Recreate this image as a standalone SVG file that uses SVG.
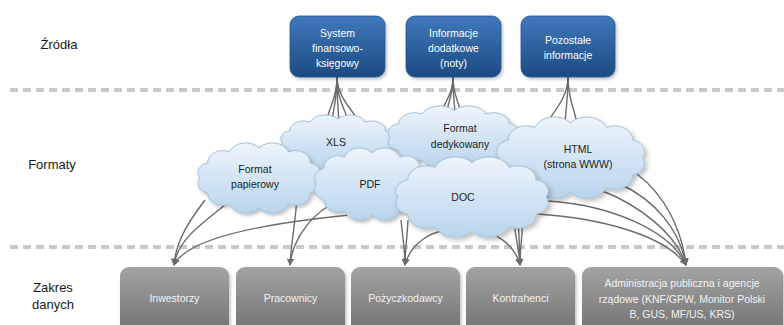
<svg xmlns="http://www.w3.org/2000/svg" xmlns:xlink="http://www.w3.org/1999/xlink" width="784" height="325" viewBox="0 0 784 325">
<style>
.lbl{font-family:"Liberation Sans","DejaVu Sans",sans-serif;font-size:13px;fill:#1a1a1a;text-anchor:middle}
.src{font-family:"Liberation Sans","DejaVu Sans",sans-serif;font-size:10.5px;fill:#ffffff;text-anchor:middle}
.cl{font-family:"Liberation Sans","DejaVu Sans",sans-serif;font-size:10.5px;fill:#222222;text-anchor:middle}
.dst{font-family:"Liberation Sans","DejaVu Sans",sans-serif;font-size:10.5px;fill:#f2f2f2;text-anchor:middle}
.dash{stroke:#c9c9c9;stroke-width:4;stroke-dasharray:8 5;fill:none}
.fan{fill:none;stroke:#6b6b6b;stroke-width:1.4}
.arr{fill:none;stroke:#6b6b6b;stroke-width:1.4;marker-end:url(#ah)}
.cloud{fill:url(#gCloud);stroke:#a5c0d8;stroke-width:1;filter:url(#sh)}
.sbox{fill:url(#gBlue);stroke:#23548e;stroke-width:0.8;filter:url(#sh)}
.dbox{fill:url(#gGray);filter:url(#sh)}
</style>
<defs>
<linearGradient id="gBlue" x1="0" y1="0" x2="0" y2="1">
<stop offset="0" stop-color="#3e78bb"/><stop offset="1" stop-color="#1d4b82"/>
</linearGradient>
<linearGradient id="gGray" x1="0" y1="0" x2="0" y2="1">
<stop offset="0" stop-color="#a3a3a3"/><stop offset="1" stop-color="#6f6f6f"/>
</linearGradient>
<linearGradient id="gCloud" x1="0" y1="0" x2="0" y2="1">
<stop offset="0" stop-color="#eef5fc"/><stop offset="1" stop-color="#b9d4ec"/>
</linearGradient>
<filter id="sh" x="-10%" y="-10%" width="125%" height="130%">
<feDropShadow dx="1.5" dy="2" stdDeviation="1.5" flood-color="#000" flood-opacity="0.25"/>
</filter>
<marker id="ah" viewBox="0 0 10 10" refX="9" refY="5" markerWidth="7" markerHeight="7" orient="auto" markerUnits="userSpaceOnUse">
<path d="M0,0 L10,5 L0,10 Z" fill="#6b6b6b"/>
</marker>
<path id="cloudShape" vector-effect="non-scaling-stroke" d="M6,32 A9,9 0 0 1 11.9,18.5 A11,11 0 0 1 28,8.6 A13,13 0 0 1 50,5 A13,13 0 0 1 72,8.6 A11,11 0 0 1 88.1,18.5 A9,9 0 0 1 94,32 A9,9 0 0 1 88.1,45.5 A11,11 0 0 1 72,55.4 A13,13 0 0 1 50,59 A13,13 0 0 1 28,55.4 A11,11 0 0 1 11.9,45.5 A9,9 0 0 1 6,32 Z"/>
</defs>

<rect x="0" y="0" width="784" height="325" fill="#ffffff"/>

<g id="rows">
<line class="dash" x1="10" y1="90" x2="784" y2="90"/>
<line class="dash" x1="10" y1="247" x2="784" y2="247"/>
<text class="lbl" x="59" y="49">Źródła</text>
<text class="lbl" x="52" y="169">Formaty</text>
<text class="lbl" x="53" y="292">Zakres</text>
<text class="lbl" x="53" y="309">danych</text>
</g>

<g id="connectors">
<path class="fan" d="M337,77 C337,100 328,108 326,124"/>
<path class="fan" d="M337,77 C337,100 333,110 332,122"/>
<path class="fan" d="M337,77 C337,100 338,110 339,122"/>
<path class="fan" d="M337,77 C337,100 345,108 348,121"/>
<path class="fan" d="M337,77 C338,100 354,110 359,123"/>
<path class="fan" d="M453,77 C453,95 444,102 441,114"/>
<path class="fan" d="M453,77 C453,95 448,102 447,112"/>
<path class="fan" d="M453,77 C453,95 454,102 455,112"/>
<path class="fan" d="M453,77 C453,95 459,102 461,114"/>
<path class="fan" d="M568,77 C568,100 550,115 543,129"/>
<path class="fan" d="M568,77 C568,100 566,110 565,122"/>
<path class="fan" d="M568,77 C568,100 575,110 577,124"/>

<path class="arr" d="M205,200 C190,220 176,240 174,265"/>
<path class="arr" d="M225,205 C200,225 178,240 174,265"/>
<path class="arr" d="M398,211 C300,218 190,232 174,265"/>
<path class="arr" d="M297,198 C295,225 291,245 290,265"/>
<path class="arr" d="M330,205 C305,220 292,245 290,265"/>
<path class="arr" d="M401,220 C403,240 405,250 405,265"/>
<path class="arr" d="M408,220 C407,240 405,250 405,265"/>
<path class="arr" d="M462,228 C430,228 410,245 405,265"/>
<path class="arr" d="M513,215 C516,240 519,250 520,265"/>
<path class="arr" d="M518,215 C519,240 520,250 520,265"/>
<path class="arr" d="M523,215 C522,240 520,250 520,265"/>
<path class="arr" d="M455,228 C490,226 514,242 520,265"/>
<path class="arr" d="M637,174 C665,195 682,230 686,265"/>
<path class="arr" d="M620,184 C655,200 680,230 686,265"/>
<path class="arr" d="M600,190 C640,205 677,235 686,265"/>
<path class="arr" d="M548,201 C610,205 670,230 686,265"/>
<path class="arr" d="M537,214 C600,218 665,235 686,265"/>
</g>

<g id="src-system">
<rect class="sbox" x="290" y="16" width="95" height="61" rx="9"/>
<text class="src" x="337.5" y="37">System</text>
<text class="src" x="337.5" y="52">finansowo-</text>
<text class="src" x="337.5" y="67">księgowy</text>
</g>
<g id="src-informacje">
<rect class="sbox" x="406" y="16" width="95" height="61" rx="9"/>
<text class="src" x="453.5" y="37">Informacje</text>
<text class="src" x="453.5" y="52">dodatkowe</text>
<text class="src" x="453.5" y="67">(noty)</text>
</g>
<g id="src-pozostale">
<rect class="sbox" x="521" y="16" width="94" height="61" rx="9"/>
<text class="src" x="568" y="44">Pozostałe</text>
<text class="src" x="568" y="59">informacje</text>
</g>

<g id="cloud-xls">
<use xlink:href="#cloudShape" class="cloud" transform="translate(274.9,114.6) scale(1.253,0.873)"/>
<text class="cl" x="336" y="146">XLS</text>
</g>
<g id="cloud-dedykowany">
<use xlink:href="#cloudShape" class="cloud" transform="translate(381.4,105.5) scale(1.453,0.984)"/>
<text class="cl" x="460" y="132">Format</text>
<text class="cl" x="460" y="148">dedykowany</text>
</g>
<g id="cloud-papierowy">
<use xlink:href="#cloudShape" class="cloud" transform="translate(191.6,142.4) scale(1.347,1.111)"/>
<text class="cl" x="255" y="173">Format</text>
<text class="cl" x="255" y="188">papierowy</text>
</g>
<g id="cloud-pdf">
<use xlink:href="#cloudShape" class="cloud" transform="translate(308.8,147.4) scale(1.263,1.143)"/>
<text class="cl" x="370" y="188">PDF</text>
</g>
<g id="cloud-html">
<use xlink:href="#cloudShape" class="cloud" transform="translate(488.9,116.4) scale(1.632,1.286)"/>
<text class="cl" x="578" y="153">HTML</text>
<text class="cl" x="578" y="168">(strona WWW)</text>
</g>
<g id="cloud-doc">
<use xlink:href="#cloudShape" class="cloud" transform="translate(387.8,156.4) scale(1.684,1.27)"/>
<text class="cl" x="463" y="201">DOC</text>
</g>

<g id="dst-inwestorzy">
<rect class="dbox" x="120" y="267" width="109" height="70" rx="9"/>
<text class="dst" x="174.5" y="302">Inwestorzy</text>
</g>
<g id="dst-pracownicy">
<rect class="dbox" x="236" y="267" width="109" height="70" rx="9"/>
<text class="dst" x="290.5" y="302">Pracownicy</text>
</g>
<g id="dst-pozyczkodawcy">
<rect class="dbox" x="351" y="267" width="109" height="70" rx="9"/>
<text class="dst" x="405.5" y="302">Pożyczkodawcy</text>
</g>
<g id="dst-kontrahenci">
<rect class="dbox" x="466" y="267" width="109" height="70" rx="9"/>
<text class="dst" x="520.5" y="302">Kontrahenci</text>
</g>
<g id="dst-administracja">
<rect class="dbox" x="582" y="267" width="201" height="70" rx="9"/>
<text class="dst" x="682" y="287">Administracja publiczna i agencje</text>
<text class="dst" x="682" y="303">rządowe (KNF/GPW, Monitor Polski</text>
<text class="dst" x="682" y="318">B, GUS, MF/US, KRS)</text>
</g>
</svg>
